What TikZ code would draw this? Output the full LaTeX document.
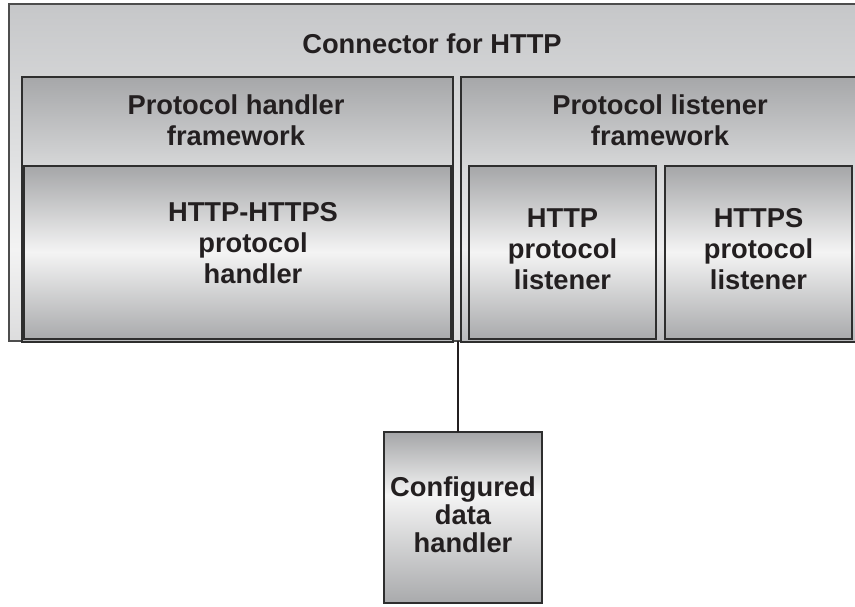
\documentclass[tikz,border=0pt]{standalone}
\usepackage{fontspec}
\setmainfont{Liberation Sans}
\definecolor{txt}{HTML}{231F20}
\definecolor{edge}{HTML}{2E2E2E}
\definecolor{oA}{HTML}{DCDCDD}
\definecolor{oB}{HTML}{F3F3F3}
\definecolor{oC}{HTML}{E0E1E2}
\definecolor{oD}{HTML}{C6C7C9}
\definecolor{fA}{HTML}{B9BABC}
\definecolor{fB}{HTML}{EEEEEF}
\definecolor{fC}{HTML}{D6D7D8}
\definecolor{fD}{HTML}{A6A7A9}
\definecolor{iA}{HTML}{A9AAAC}
\definecolor{iB}{HTML}{F4F4F4}
\definecolor{iC}{HTML}{A5A6A8}
\pgfdeclareverticalshading{outershade}{100bp}{color(0bp)=(oA); color(25bp)=(oA); color(38.5bp)=(oB); color(51.9bp)=(oC); color(75bp)=(oD); color(100bp)=(oD)}
\pgfdeclareverticalshading{fwshade}{100bp}{color(0bp)=(fA); color(25bp)=(fA); color(42.4bp)=(fB); color(58.2bp)=(fC); color(75bp)=(fD); color(100bp)=(fD)}
\pgfdeclareverticalshading{innershade}{100bp}{color(0bp)=(iA); color(25bp)=(iA); color(50.1bp)=(iB); color(75bp)=(iC); color(100bp)=(iC)}
\pgfdeclareverticalshading{datashade}{100bp}{color(0bp)=(iA); color(25bp)=(iA); color(56.6bp)=(iB); color(75bp)=(iC); color(100bp)=(iC)}
\begin{document}
\begin{tikzpicture}[x=1pt,y=-1pt,
  boxbase/.style={draw=edge, line width=1.3pt, inner sep=0pt, outer sep=0pt, anchor=north west},
  outerbox/.style={boxbase, draw=edge!85, shading=outershade},
  fwbox/.style={boxbase, shading=fwshade},
  innerbox/.style={boxbase, shading=innershade},
  databox/.style={boxbase, shading=datashade},
  lbl/.style={align=center, text=txt, inner sep=0pt, font=\bfseries\fontsize{27.3}{31}\selectfont},
  lbltight/.style={lbl, font=\bfseries\fontsize{27.3}{28}\selectfont},
  link/.style={draw=txt, line width=2pt}]
\useasboundingbox (0,0) rectangle (855,607);
\clip (0,0) rectangle (855,607);
\fill[white] (0,0) rectangle (855,607);
% boxes
\node[outerbox, minimum width=891pt, minimum height=337pt] (conn) at (9,4) {};
\node[fwbox, minimum width=431pt, minimum height=265pt] (hfw) at (22,77) {};
\node[fwbox, minimum width=440pt, minimum height=265pt] (lfw) at (461,77) {};
\node[innerbox, minimum width=427pt, minimum height=173pt] (hh) at (24,166) {};
\node[innerbox, minimum width=187pt, minimum height=173pt] (hl) at (469,166) {};
\node[innerbox, minimum width=187pt, minimum height=173pt] (hsl) at (665,166) {};
\node[databox, minimum width=158pt, minimum height=171pt] (data) at (384,432) {};
% connector
\coordinate (gapbot) at (457.5,341);
\draw[link] (gapbot) -- (data.north -| gapbot);
% labels
\node[lbl] (tconn) at (432,44) {Connector for HTTP};
\node[lbl] (thfw) at (236,120.5) {Protocol handler\\framework};
\node[lbl] (tlfw) at (660,120.5) {Protocol listener\\framework};
\node[lbl] (thh) at (253,243.5) {HTTP-HTTPS\\protocol\\handler};
\node[lbl] (thl) at (562.5,249) {HTTP\\protocol\\listener};
\node[lbl] (thsl) at (758.5,249) {HTTPS\\protocol\\listener};
\node[lbltight] (tdata) at (463,515) {Configured\\data\\handler};
\end{tikzpicture}
\end{document}
